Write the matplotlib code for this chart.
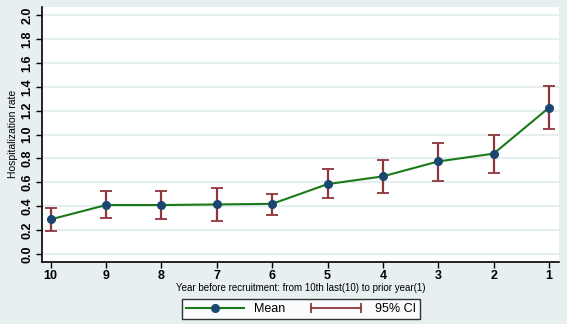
import matplotlib
matplotlib.use("Agg")
import matplotlib.pyplot as plt
from matplotlib.lines import Line2D
from matplotlib.legend_handler import HandlerLine2D

years = [10, 9, 8, 7, 6, 5, 4, 3, 2, 1]
mean_rate = [0.29, 0.41, 0.41, 0.415, 0.42, 0.585, 0.65, 0.775, 0.84, 1.225]
ci_low = [0.19, 0.305, 0.29, 0.275, 0.33, 0.465, 0.51, 0.615, 0.68, 1.045]
ci_high = [0.385, 0.525, 0.525, 0.555, 0.505, 0.71, 0.79, 0.93, 0.995, 1.41]
yticks = [0.0, 0.2, 0.4, 0.6, 0.8, 1.0, 1.2, 1.4, 1.6, 1.8, 2.0]

green = "#1a7a1a"
navy = "#1a476f"
maroon = "#90353b"

plt.rcParams["font.family"] = ["Liberation Sans", "DejaVu Sans"]

fig = plt.figure(figsize=(5.67, 3.24), dpi=100)
fig.patch.set_facecolor("#e8eff1")
ax = fig.add_axes([42 / 567, 62.3 / 324, 517 / 567, 254.7 / 324])
ax.set_facecolor("white")

for y in yticks:
    ax.axhline(y, color="#e6eef0", lw=1.5, zorder=0)

lo_err = [m - l for m, l in zip(mean_rate, ci_low)]
hi_err = [h - m for m, h in zip(mean_rate, ci_high)]
ax.errorbar(years, mean_rate, yerr=[lo_err, hi_err], fmt="none",
            ecolor=maroon, elinewidth=1.6, capsize=4, capthick=1.3, zorder=2)
ax.plot(years, mean_rate, color=green, lw=1.5, marker="o", ms=5.5,
        mfc=navy, mec=navy, zorder=3)

ax.set_xlim(10.157, 0.82)
ax.set_ylim(-0.064, 2.067)
ax.set_xticks(years)
ax.set_yticks(yticks)
ax.set_yticklabels([f"{v:.1f}" for v in yticks], rotation=90, va="center")
ax.tick_params(axis="both", direction="out", length=4, width=1, labelsize=9,
               pad=2)
for lab in ax.get_xticklabels() + ax.get_yticklabels():
    lab.set_fontweight("bold")
ax.spines["top"].set_visible(False)
ax.spines["right"].set_visible(False)
ax.spines["left"].set_linewidth(1.2)
ax.spines["bottom"].set_linewidth(1.2)

ax.set_xlabel("Year before recruitment: from 10th last(10) to prior year(1)",
              fontsize=7, labelpad=1)
ax.set_ylabel("Hospitalization rate", fontsize=7.5, labelpad=3)

h_mean = Line2D([], [], color=green, lw=1.5, marker="o", ms=5.5,
                mfc=navy, mec=navy)
h_ci = Line2D([], [], color=maroon, lw=1.3, marker="|", ms=7, mew=1.3)
leg = fig.legend([h_mean, h_ci], ["Mean", "95% CI"], ncol=2,
                 loc="center", bbox_to_anchor=(301 / 567, 1 - 309 / 324),
                 fontsize=9, frameon=True, fancybox=False, edgecolor="black",
                 handlelength=4.6, handletextpad=0.8, columnspacing=1.8,
                 borderpad=0.3,
                 handler_map={h_mean: HandlerLine2D(numpoints=1),
                              h_ci: HandlerLine2D(numpoints=2)})
leg.get_frame().set_linewidth(1.0)

fig.savefig("out.png", dpi=100, facecolor=fig.get_facecolor())
